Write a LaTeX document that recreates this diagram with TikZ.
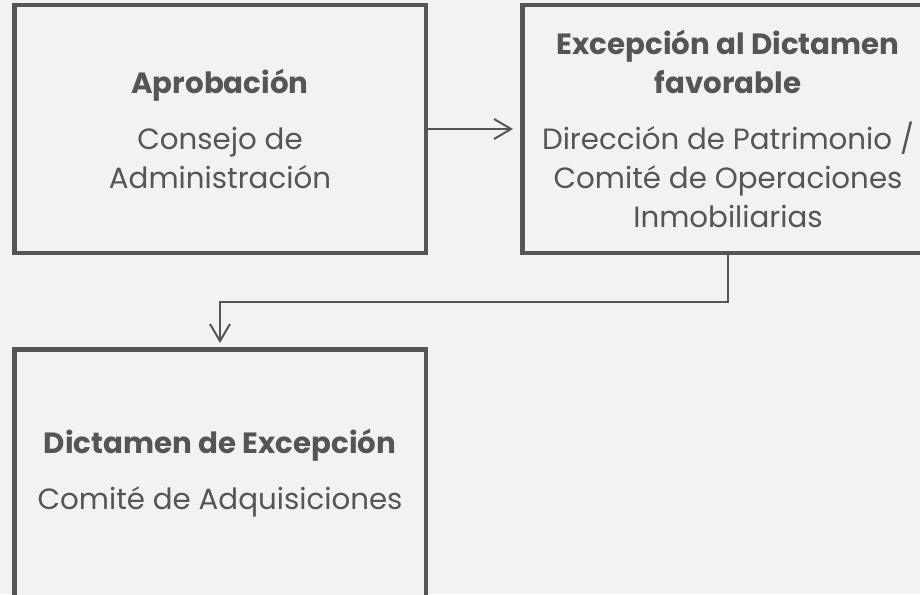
\documentclass[tikz,border=0pt]{standalone}
\usepackage{fontspec}
\setmainfont{Poppins}
\usetikzlibrary{arrows.meta}
\definecolor{bg}{HTML}{F2F2F2}
\definecolor{ink}{HTML}{555555}
\tikzset{
  box/.style={draw=ink, line width=4.5pt, fill=bg, minimum width=411.5pt, minimum height=247.5pt, inner sep=0pt, align=center, text=ink, font=\fontsize{29.3}{39}\selectfont},
  conn/.style={draw=ink, line width=2pt, -{Straight Barb[length=17pt,width=20pt,line width=2pt]}},
}
\begin{document}
\begin{tikzpicture}[x=1pt,y=-1pt]
\fill[bg] (0,0) rectangle (920,594);
\useasboundingbox (0,0) rectangle (920,594);
\node[box] (b1) at (220,129) {\textbf{Aprobación}\\[17pt]Consejo de\\Administración};
\node[box] (b2) at (728,129) {\textbf{Excepción al Dictamen}\\\textbf{favorable}\\[17pt]Dirección de Patrimonio /\\Comité de Operaciones\\Inmobiliarias};
\node[box] (b3) at (220,473) {\textbf{Dictamen de Excepción}\\[17pt]Comité de Adquisiciones};
\draw[conn, shorten >=7pt] (b1.east) -- (b2.west);
\draw[conn, shorten >=4pt] (b2.south) -- ++(0,47.25) -| (b3.north);
\end{tikzpicture}
\end{document}
